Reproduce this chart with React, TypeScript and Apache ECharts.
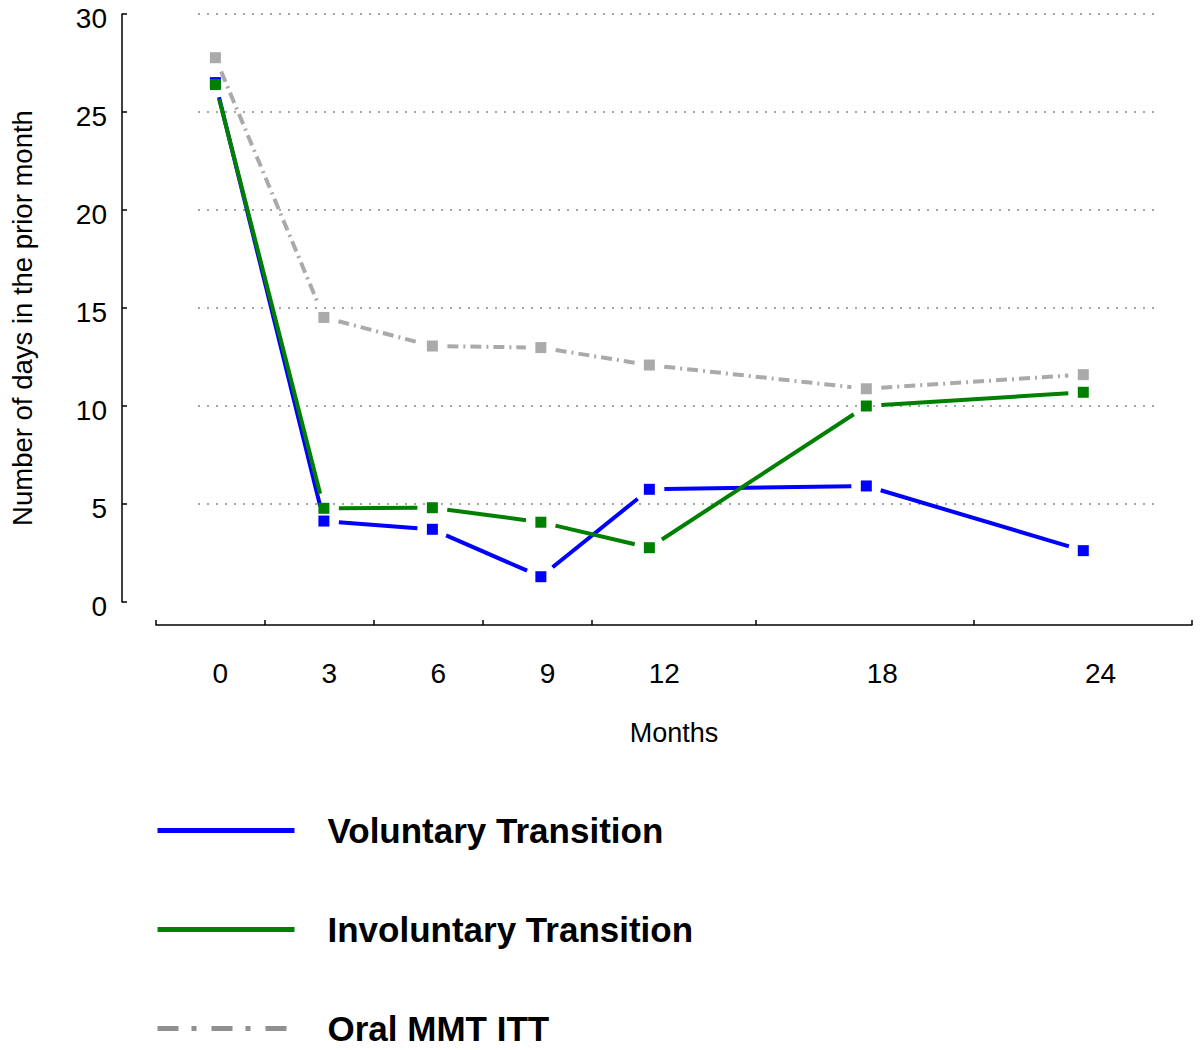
import React, { useEffect, useRef } from "react";
import * as echarts from "echarts";

// ---- data ----
const months = [0, 3, 6, 9, 12, 18, 24];
const voluntary = [26.5, 4.13, 3.71, 1.29, 5.75, 5.92, 2.62];
const involuntary = [26.4, 4.78, 4.81, 4.07, 2.77, 10.0, 10.7];
const oralMMT = [27.77, 14.52, 13.06, 12.98, 12.09, 10.88, 11.6];
const xTickBoundaries = [-1.5, 1.5, 4.5, 7.5, 10.5, 15, 21, 27];
const seriesNames = ["Voluntary Transition", "Involuntary Transition", "Oral MMT ITT"];
const yAxisName = "Number of days in the prior month";
const xAxisName = "Months";

// ---- layout / style ----
const FONT = "'Liberation Sans', Arial, Helvetica, sans-serif";
const PX_PER_MONTH = 36.35;
const ORIGIN_X = 210.5;
const PLOT_LEFT = 193;
const PLOT_RIGHT = 1158;
const GAP = 15;

const BLUE = "#0000ff";
const GREEN = "#008000";
const GRAY = "#aaaaaa";
const GRAY_DASH = [11, 5, 2, 5];

function segments(vals: number[]) {
  return months.slice(0, -1).map((m, i) => [m, vals[i], months[i + 1], vals[i + 1]]);
}

function segmentSeries(vals: number[], color: string, dash: any) {
  return {
    type: "custom",
    xAxisIndex: 0,
    yAxisIndex: 0,
    clip: false,
    silent: true,
    z: 2,
    encode: { x: [0, 2], y: [1, 3] },
    data: segments(vals),
    renderItem: (params: any, api: any) => {
      const a = api.coord([api.value(0), api.value(1)]);
      const b = api.coord([api.value(2), api.value(3)]);
      const dx = b[0] - a[0];
      const dy = b[1] - a[1];
      const len = Math.hypot(dx, dy) || 1;
      const ux = dx / len;
      const uy = dy / len;
      return {
        type: "line",
        shape: {
          x1: a[0] + ux * GAP,
          y1: a[1] + uy * GAP,
          x2: b[0] - ux * GAP,
          y2: b[1] - uy * GAP,
        },
        style: dash
          ? { stroke: color, lineWidth: 4, lineDash: dash }
          : { stroke: color, lineWidth: 4 },
      };
    },
  };
}

function markerSeries(name: string, vals: number[], color: string) {
  return {
    type: "line",
    name,
    xAxisIndex: 0,
    yAxisIndex: 0,
    data: months.map((m, i) => [m, vals[i]]),
    symbol: "rect",
    symbolSize: 11,
    showSymbol: true,
    itemStyle: { color },
    lineStyle: { opacity: 0, width: 0 },
    z: 3,
  };
}

export default function App() {
  const ref = useRef<HTMLDivElement>(null);

  useEffect(() => {
    if (!ref.current) return;
    const chart = echarts.init(ref.current, null, { renderer: "svg" });
    const xMin = (PLOT_LEFT - ORIGIN_X) / PX_PER_MONTH;
    const xMax = (PLOT_RIGHT - ORIGIN_X) / PX_PER_MONTH;
    const axisMin = xTickBoundaries[0];
    const axisMax = xTickBoundaries[xTickBoundaries.length - 1];
    const axisLeft = ORIGIN_X + axisMin * PX_PER_MONTH;
    const axisWidth = (axisMax - axisMin) * PX_PER_MONTH;

    const option: any = {
      animation: false,
      backgroundColor: "#ffffff",
      textStyle: { fontFamily: FONT },
      grid: [
        { left: PLOT_LEFT, top: 14, width: PLOT_RIGHT - PLOT_LEFT, height: 588 },
        { left: axisLeft, top: 624, width: axisWidth, height: 1 },
      ],
      xAxis: [
        { type: "value", gridIndex: 0, min: xMin, max: xMax, show: false },
        {
          type: "value",
          gridIndex: 1,
          min: axisMin,
          max: axisMax,
          axisLine: { show: true, onZero: false, lineStyle: { color: "#000", width: 1.5 } },
          axisTick: {
            show: true,
            inside: true,
            length: 5,
            customValues: xTickBoundaries,
            lineStyle: { color: "#000", width: 1.5 },
          },
          axisLabel: {
            customValues: months,
            formatter: (v: number) => String(v),
            align: "left",
            padding: [0, 0, 0, 2],
            margin: 34,
            fontSize: 28,
            color: "#000",
            fontFamily: FONT,
          },
          splitLine: { show: false },
          name: xAxisName,
          nameLocation: "middle",
          nameGap: 94,
          nameTextStyle: { fontSize: 27, color: "#000", fontFamily: FONT },
        },
      ],
      yAxis: [
        {
          type: "value",
          gridIndex: 0,
          min: 0,
          max: 30,
          interval: 5,
          offset: PLOT_LEFT - 117,
          axisLine: { show: true, onZero: false, lineStyle: { color: "#000", width: 1.5 } },
          axisTick: { show: true, inside: true, length: 5, lineStyle: { color: "#000", width: 1.5 } },
          axisLabel: {
            margin: 15,
            formatter: "{v|{value}}",
            rich: {
              v: { fontSize: 28, color: "#000", fontFamily: FONT, padding: [9, 0, 0, 0] },
            },
          },
          splitLine: {
            show: true,
            showMinLine: false,
            lineStyle: { color: "#888888", type: [2, 7], width: 1.5 },
          },
          name: yAxisName,
          nameLocation: "middle",
          nameGap: 86,
          nameRotate: 90,
          nameTextStyle: { fontSize: 27.5, color: "#000", fontFamily: FONT, padding: [0, 20, 0, 0] },
        },
        { type: "value", gridIndex: 1, show: false },
      ],
      legend: {
        orient: "vertical",
        left: 155,
        top: 813,
        height: 260,
        padding: 0,
        itemWidth: 137,
        itemHeight: 14,
        itemGap: 64,
        selectedMode: false,
        textStyle: {
          fontSize: 35,
          fontWeight: "bold",
          color: "#000",
          fontFamily: FONT,
          padding: [0, 0, 0, 28],
        },
        data: [
          {
            name: seriesNames[0],
            itemStyle: { opacity: 0 },
            lineStyle: { color: BLUE, width: 5, opacity: 1, type: "solid" },
          },
          {
            name: seriesNames[1],
            itemStyle: { opacity: 0 },
            lineStyle: { color: GREEN, width: 5, opacity: 1, type: "solid" },
          },
          {
            name: seriesNames[2],
            itemStyle: { opacity: 0 },
            lineStyle: { color: "#909090", width: 5, opacity: 1, type: [21, 13, 5, 15] },
          },
        ],
      },
      series: [
        segmentSeries(oralMMT, GRAY, GRAY_DASH),
        segmentSeries(voluntary, BLUE, null),
        segmentSeries(involuntary, GREEN, null),
        markerSeries(seriesNames[2], oralMMT, GRAY),
        markerSeries(seriesNames[0], voluntary, BLUE),
        markerSeries(seriesNames[1], involuntary, GREEN),
      ],
    };
    chart.setOption(option);
    return () => chart.dispose();
  }, []);

  return (
    <div
      ref={ref}
      style={{ position: "absolute", left: 0, top: 0, width: 1200, height: 1050, background: "#fff" }}
    />
  );
}
